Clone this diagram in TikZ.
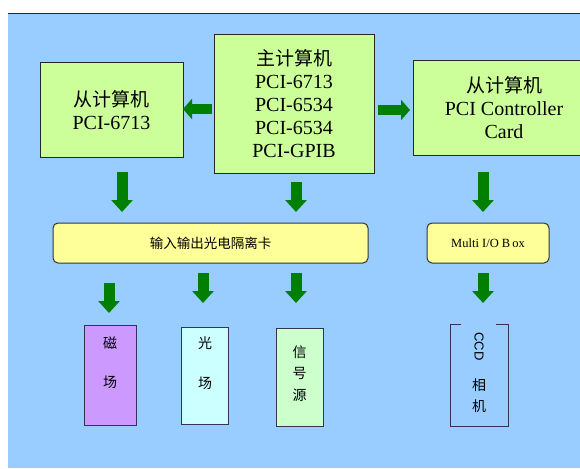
\documentclass[tikz,border=0pt]{standalone}
\usepackage{fontspec}
\setmainfont{Liberation Serif}
\newfontfamily\cjk{Noto Sans CJK SC}
\newfontfamily\lsans{Liberation Sans}
\usetikzlibrary{arrows.meta}
\definecolor{bgblue}{HTML}{99CCFF}
\definecolor{boxgreen}{HTML}{CCFF99}
\definecolor{boxyellow}{HTML}{FFFF99}
\definecolor{boxpurple}{HTML}{CC99FF}
\definecolor{boxcyan}{HTML}{CCFFFF}
\definecolor{boxmint}{HTML}{CCFFCC}
\definecolor{arrgreen}{HTML}{007F00}
\definecolor{edgenavy}{HTML}{333355}
\tikzset{
  topbox/.style={draw=black!85, line width=1pt, fill=boxgreen, inner sep=0pt, align=center,
    font=\fontsize{20}{23}\selectfont},
  cardbox/.style={draw=black!80, line width=1pt, fill=boxyellow, rounded corners=5pt, inner sep=0pt},
  devbox/.style={draw=edgenavy, line width=1pt, inner sep=0pt},
  smalltext/.style={font=\cjk\fontsize{13.5}{16}\selectfont, inner sep=0pt},
  downarr/.style={draw=arrgreen, line width=11pt, -{Triangle[length=12pt,width=21pt]}},
  siderarr/.style={draw=arrgreen, line width=10pt, -{Triangle[length=9pt,width=20pt]}},
}
\begin{document}
\begin{tikzpicture}[x=1pt,y=-1pt]
\useasboundingbox (0,0) rectangle (580,468);
\fill[white] (0,0) rectangle (580,468);
\fill[bgblue] (8,14) rectangle (580,468);
\draw[black!85, line width=1pt] (8,14) -- (580,14);

% top row
\node[topbox, minimum width=143pt, minimum height=94pt] (left) at (111.5,110)
  {{\cjk\fontsize{19}{23}\selectfont 从计算机}\\PCI-6713};
\node[topbox, minimum width=160pt, minimum height=138pt] (main) at (294,104)
  {{\cjk\fontsize{19}{23}\selectfont 主计算机}\\PCI-6713\\PCI-6534\\PCI-6534\\PCI-GPIB};
\node[topbox, minimum width=182pt, minimum height=94pt] (right) at (504,108)
  {{\cjk\fontsize{19}{23}\selectfont 从计算机}\\PCI Controller\\Card};

% middle row
\node[cardbox, minimum width=315pt, minimum height=40pt] (card) at (210.5,243) {};
\node[smalltext] (cardtext) at (card.center) {输入输出光电隔离卡};
\node[cardbox, minimum width=122pt, minimum height=40pt] (mio) at (488,243) {};
\node[inner sep=0pt, font=\fontsize{12.5}{15}\selectfont] (miotext) at (mio.center) {Multi I/O B\,ox};

% bottom row
\node[devbox, fill=boxpurple, minimum width=52pt, minimum height=100pt] (mag) at (110,375) {};
\node[devbox, fill=boxcyan, minimum width=47pt, minimum height=97pt] (light) at (204.5,375.5) {};
\node[devbox, fill=boxmint, minimum width=47pt, minimum height=98pt] (sig) at (299.5,377) {};
\coordinate (ccd) at (479,375);
\draw[edgenavy, line width=1pt] (461,324) -- (450,324) -- (450,426) -- (508,426) -- (508,324) -- (496,324);

\node[smalltext, font=\cjk\fontsize{14}{16}\selectfont] (magA) at (110,343) {磁};
\node[smalltext, font=\cjk\fontsize{14}{16}\selectfont] (magB) at (110,382) {场};
\node[smalltext, font=\cjk\fontsize{14}{16}\selectfont] (lightA) at (205,343) {光};
\node[smalltext, font=\cjk\fontsize{14}{16}\selectfont] (lightB) at (205,383) {场};
\node[smalltext, font=\cjk\fontsize{14}{16}\selectfont] (sigA) at (299.5,352) {信};
\node[smalltext, font=\cjk\fontsize{14}{16}\selectfont] (sigB) at (299.5,373.5) {号};
\node[smalltext, font=\cjk\fontsize{14}{16}\selectfont] (sigC) at (299.5,395) {源};
\node[inner sep=0pt, rotate=-90, font=\lsans\fontsize{13}{15}\selectfont] (ccdA) at (479,346.5) {CCD};
\node[smalltext, font=\cjk\fontsize{14}{16}\selectfont] (ccdB) at (479,385) {相};
\node[smalltext, font=\cjk\fontsize{14}{16}\selectfont] (ccdC) at (479,406) {机};

% arrow end points
\coordinate (hl1) at (212,109); \coordinate (hl2) at (183,109);
\coordinate (hr1) at (378,110); \coordinate (hr2) at (410,110);
\coordinate (d1a) at (122,172); \coordinate (d1b) at (122,212);
\coordinate (d2a) at (296,182); \coordinate (d2b) at (296,212);
\coordinate (d3a) at (483,172); \coordinate (d3b) at (483,212);
\coordinate (d4a) at (109,283); \coordinate (d4b) at (109,313);
\coordinate (d5a) at (203,273); \coordinate (d5b) at (203,303);
\coordinate (d6a) at (296,273); \coordinate (d6b) at (296,303);
\coordinate (d7a) at (483,273); \coordinate (d7b) at (483,303);

\draw[siderarr] (hl1) -- (hl2);
\draw[siderarr] (hr1) -- (hr2);
\draw[downarr] (d1a) -- (d1b);
\draw[downarr] (d2a) -- (d2b);
\draw[downarr] (d3a) -- (d3b);
\draw[downarr] (d4a) -- (d4b);
\draw[downarr] (d5a) -- (d5b);
\draw[downarr] (d6a) -- (d6b);
\draw[downarr] (d7a) -- (d7b);
\end{tikzpicture}
\end{document}
